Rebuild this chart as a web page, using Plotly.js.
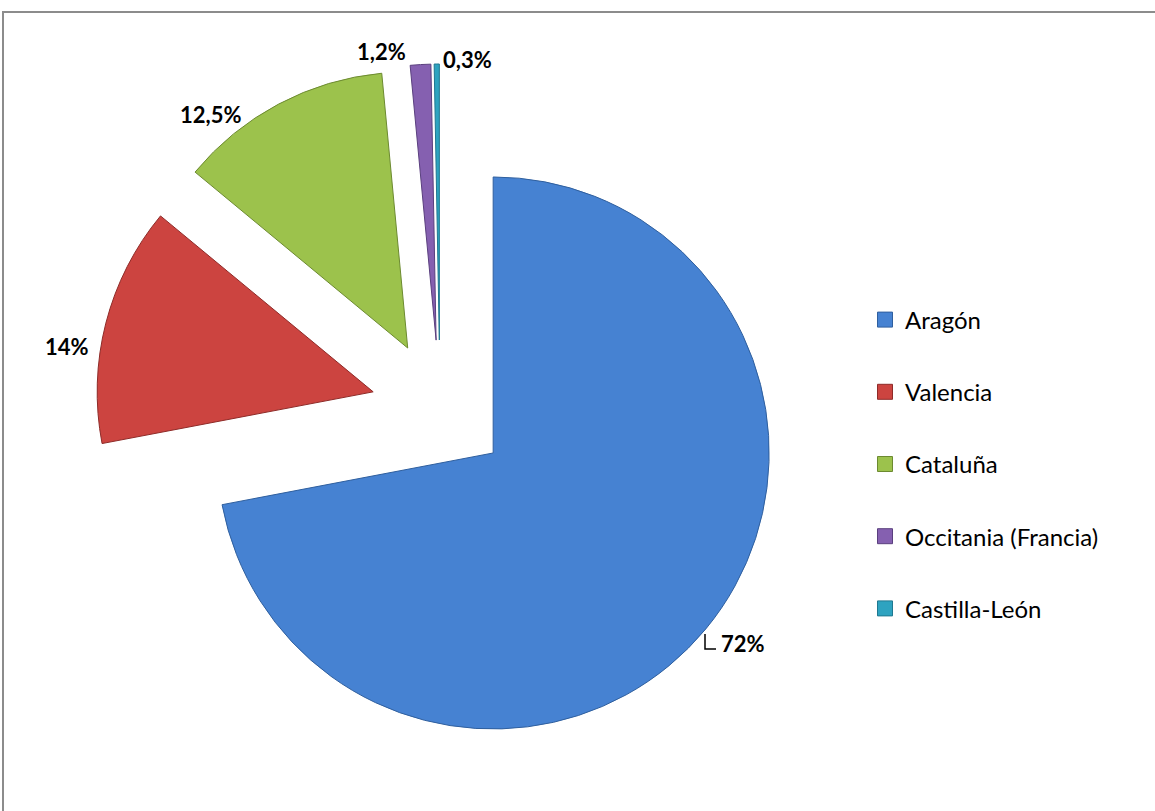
<!DOCTYPE html>
<html>
<head>
<meta charset="utf-8">
<script src="https://cdn.plot.ly/plotly-3.0.1.min.js"></script>
<style>html,body{margin:0;padding:0;background:#fff;}#chart{width:1155px;height:811px;}</style>
</head>
<body>
<div id="chart"></div>
<script>
const categories = ["Aragón", "Valencia", "Cataluña", "Occitania (Francia)", "Castilla-León"];
const values = [72, 14, 12.5, 1.2, 0.3];
const sliceColors = ["#4682d2", "#cc4440", "#9cc24c", "#8560b0", "#2ea3c0"];
const sliceEdges = ["#2f5f9e", "#8e2b28", "#6c8a30", "#5a3f7e", "#1f7890"];

const labelsText = values.map(v => String(v).replace('.', ',') + '%');

const W = 1155, H = 811;
// pixel positions of the data labels (centre of each label), layout only
const labelPos = [[743, 643], [67, 346], [210, 114], [381, 52], [467, 60]];
const labelFont = {family: 'Lato, "Open Sans", sans-serif', size: 22, color: '#000', weight: 'bold'};

const pie = {
  type: 'pie',
  labels: categories,
  values: values,
  textinfo: 'none',
  sort: false,
  direction: 'clockwise',
  rotation: 0,
  pull: [0.25, 0.25, 0.25, 0.25, 0.25],
  marker: {colors: sliceColors, line: {color: sliceEdges, width: 1}},
  domain: {x: [95 / W, 785 / W], y: [(H - 754) / H, (H - 64) / H]},
  showlegend: false,
  hoverinfo: 'label+percent'
};

const legendTraces = categories.map((c, i) => ({
  type: 'scatter',
  x: [null], y: [null],
  mode: 'markers',
  name: c,
  legendgroup: 'g' + i,
  marker: {symbol: 'square', size: 15, color: sliceColors[i], line: {color: sliceEdges[i], width: 1}},
  showlegend: true,
  hoverinfo: 'skip'
}));

const annotations = labelsText.map((t, i) => ({
  xref: 'paper', yref: 'paper',
  x: labelPos[i][0] / W, y: 1 - labelPos[i][1] / H,
  xanchor: 'center', yanchor: 'middle',
  text: t, showarrow: false,
  font: labelFont
}));

const layout = {
  width: W, height: H,
  margin: {l: 0, r: 0, t: 0, b: 0},
  paper_bgcolor: '#ffffff',
  plot_bgcolor: 'rgba(0,0,0,0)',
  xaxis: {visible: false},
  yaxis: {visible: false},
  showlegend: true,
  legend: {
    x: 865 / W, xanchor: 'left',
    y: 1 - 464 / H, yanchor: 'middle',
    font: {family: 'Lato, "Open Sans", sans-serif', size: 24, color: '#000'},
    tracegroupgap: 38,
    bgcolor: 'rgba(0,0,0,0)'
  },
  annotations: annotations,
  shapes: [{
    type: 'rect', xref: 'paper', yref: 'paper',
    x0: 3 / W, x1: 1.02, y0: -0.02, y1: 1 - 12 / H,
    line: {color: '#8c8c8c', width: 2}, fillcolor: 'rgba(0,0,0,0)'
  }, {
    type: 'path', xref: 'paper', yref: 'paper',
    path: 'M ' + (705 / W) + ' ' + (1 - 634 / H) + ' L ' + (705 / W) + ' ' + (1 - 649 / H) + ' L ' + (716 / W) + ' ' + (1 - 649 / H),
    line: {color: '#000', width: 1.5}
  }]
};

Plotly.newPlot('chart', [pie].concat(legendTraces), layout, {displayModeBar: false, staticPlot: true});
</script>
</body>
</html>
